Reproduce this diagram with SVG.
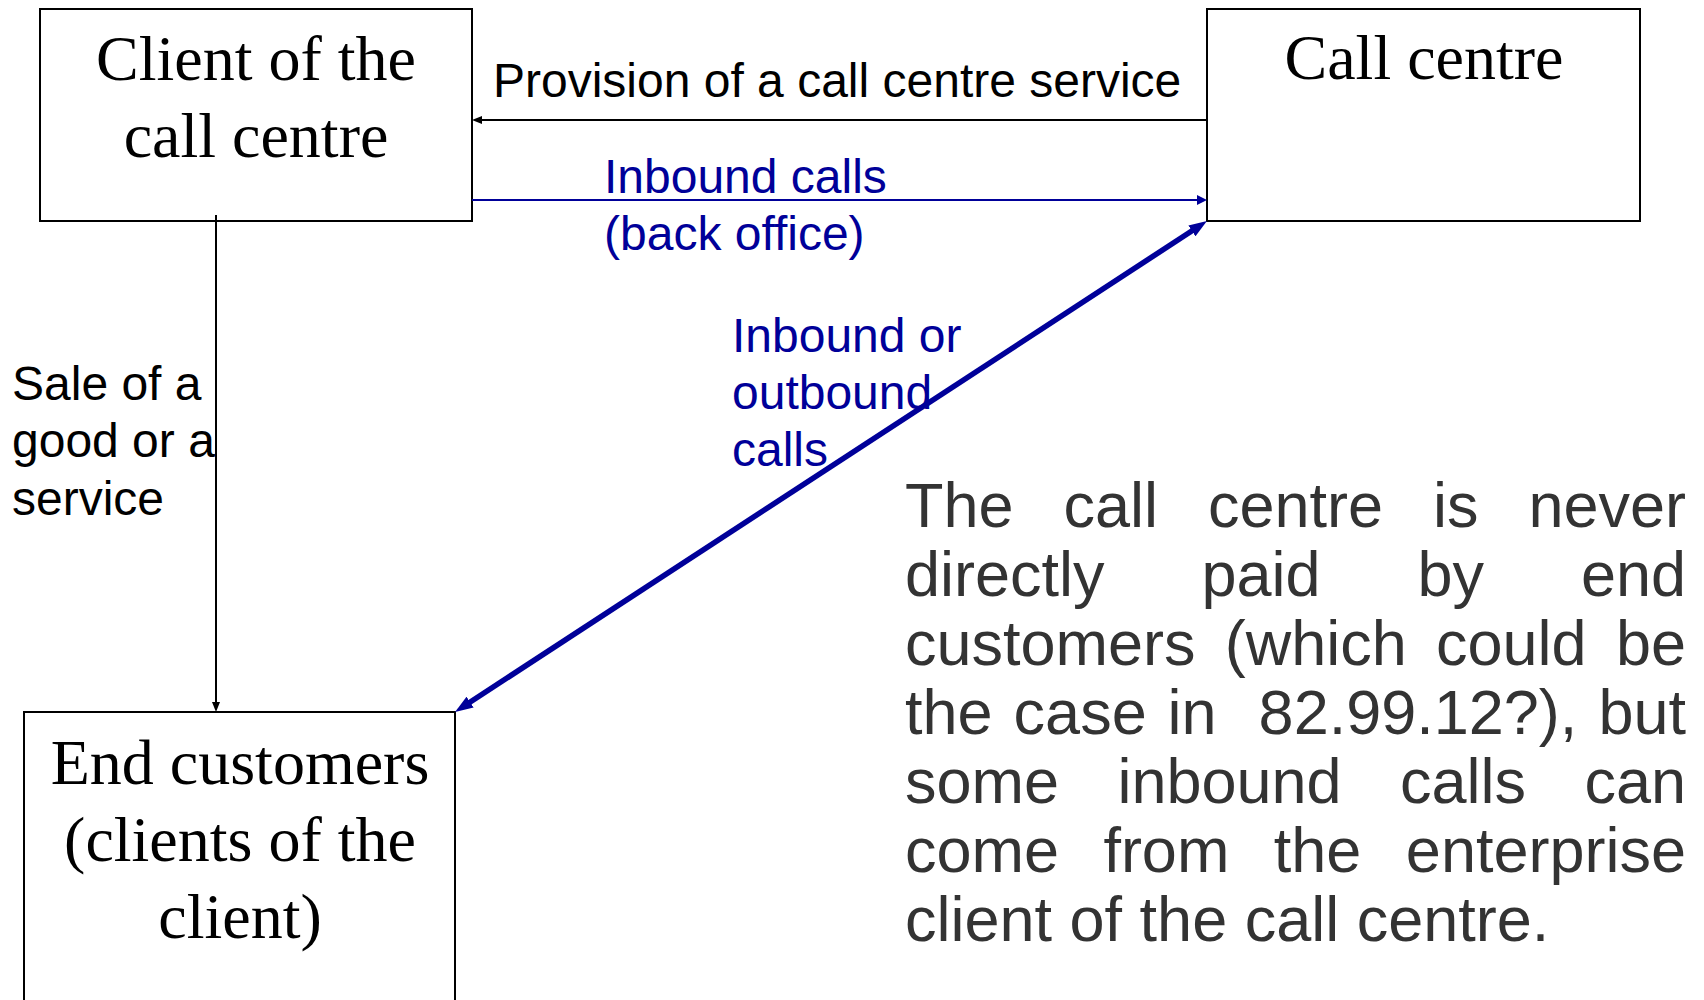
<svg xmlns="http://www.w3.org/2000/svg" width="1704" height="1000" viewBox="0 0 1704 1000">
<style>
.box{fill:#fff;stroke:#000;stroke-width:2}
.ser{font-family:"Liberation Serif","Times New Roman",serif;font-size:64px;fill:#000;text-anchor:middle}
.lbl{font-family:"Liberation Sans",Arial,sans-serif;font-size:48px;fill:#000}
.blue{fill:#000099}
.para{font-family:"Liberation Sans",Arial,sans-serif;font-size:63px;fill:#333333}
.e{text-anchor:end}
.k{stroke:#000;stroke-width:2;fill:none}
.b{stroke:#000099;stroke-width:2;fill:none}
.bt{stroke:#000099;stroke-width:5.5;fill:none}
</style>
<defs>
<marker id="ak" markerUnits="userSpaceOnUse" viewBox="0 0 10 8" markerWidth="10" markerHeight="8" refX="0" refY="4" orient="auto"><path d="M0,0 L10,4 L0,8 z" fill="#000"/></marker>
<marker id="ab" markerUnits="userSpaceOnUse" viewBox="0 0 10 10" markerWidth="10" markerHeight="10" refX="0" refY="5" orient="auto"><path d="M0,0 L10,5 L0,10 z" fill="#000099"/></marker>
<marker id="abt" markerUnits="userSpaceOnUse" viewBox="0 0 18 13" markerWidth="18" markerHeight="13" refX="8" refY="6.5" orient="auto-start-reverse"><path d="M0,0 L18,6.5 L0,13 z" fill="#000099"/></marker>
</defs>

<g id="client">
<rect class="box" x="40" y="9" width="432" height="212"/>
<text class="ser" x="256" y="80">Client of the</text>
<text class="ser" x="256" y="157">call centre</text>
</g>

<g id="callcentre">
<rect class="box" x="1207" y="9" width="433" height="212"/>
<text class="ser" x="1424" y="79">Call centre</text>
</g>

<g id="endcustomers">
<rect class="box" x="24" y="712" width="431" height="400"/>
<text class="ser" x="240" y="784">End customers</text>
<text class="ser" x="240" y="861">(clients of the</text>
<text class="ser" x="240" y="938">client)</text>
</g>

<g id="connectors">
<path class="k" d="M1207,120 L482,120" marker-end="url(#ak)"/>
<path class="b" d="M472,200 L1197,200" marker-end="url(#ab)"/>
<path class="k" d="M216,215 L216,702" marker-end="url(#ak)"/>
<path class="bt" d="M463.4,706.5 L1198.6,226.5" marker-start="url(#abt)" marker-end="url(#abt)"/>
</g>

<g id="labels">
<text class="lbl" x="493" y="97">Provision of a call centre service</text>
<text class="lbl blue" x="604" y="193">Inbound calls</text>
<text class="lbl blue" x="604" y="250">(back office)</text>
<text class="lbl blue" x="732" y="352">Inbound or</text>
<text class="lbl blue" x="732" y="409">outbound</text>
<text class="lbl blue" x="732" y="466">calls</text>
<text class="lbl" x="12" y="400">Sale of a</text>
<text class="lbl" x="12" y="457">good or a</text>
<text class="lbl" x="12" y="515">service</text>
</g>

<g id="note" class="para">
<text y="527"><tspan x="905">The</tspan><tspan x="1063.4">call</tspan><tspan x="1207.9">centre</tspan><tspan x="1432.9">is</tspan></text>
<text class="e" x="1686" y="527">never</text>
<text y="596"><tspan x="905">directly</tspan><tspan x="1201.4">paid</tspan><tspan x="1417.4">by</tspan></text>
<text class="e" x="1686" y="596">end</text>
<text y="665"><tspan x="905">customers</tspan><tspan x="1224.8">(which</tspan><tspan x="1436">could</tspan></text>
<text class="e" x="1686" y="665">be</text>
<text y="734"><tspan x="905">the</tspan><tspan x="1013.6">case</tspan><tspan x="1167.6">in</tspan><tspan x="1258.6">82.99.12?),</tspan></text>
<text class="e" x="1686" y="734">but</text>
<text y="803"><tspan x="905">some</tspan><tspan x="1117.4">inbound</tspan><tspan x="1400">calls</tspan></text>
<text class="e" x="1686" y="803">can</text>
<text y="872"><tspan x="905">come</tspan><tspan x="1103.4">from</tspan><tspan x="1273.8">the</tspan></text>
<text class="e" x="1686" y="872">enterprise</text>
<text x="905" y="941">client of the call centre.</text>
</g>
</svg>
